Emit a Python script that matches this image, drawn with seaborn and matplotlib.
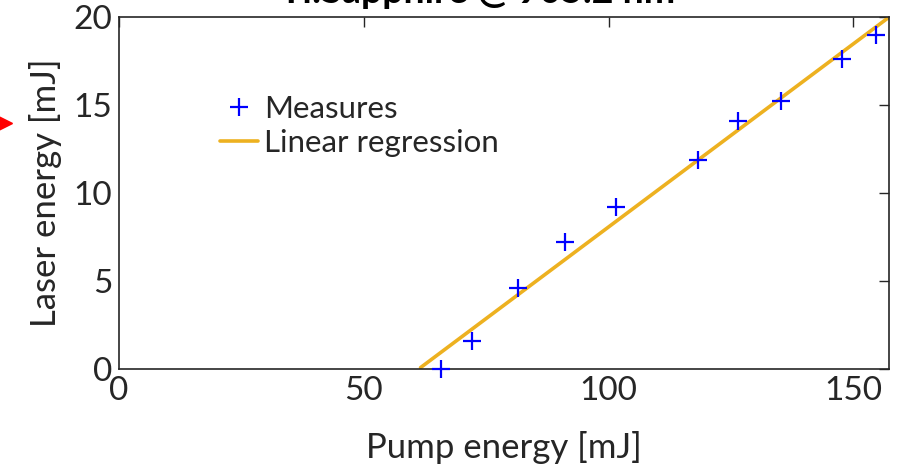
import numpy as np
import pandas as pd
import matplotlib
matplotlib.use("Agg")
import matplotlib.pyplot as plt
import seaborn as sns

pump = [65.7, 72.2, 81.6, 91.2, 101.6, 118.2, 126.5, 135.3, 147.8, 154.7]
laser = [0.0, 1.6, 4.6, 7.2, 9.2, 11.9, 14.1, 15.2, 17.6, 19.0]
fit_x = [61.6, 157.5]

sns.set_theme(style="white")
plt.rcParams['font.family'] = ['Lato', 'DejaVu Sans']

fig = plt.figure(figsize=(9.09, 4.72), dpi=100)
ax = fig.add_axes([119/909, 1-369/472, (889-119)/909, (369-17)/472])

df = pd.DataFrame({"pump": pump, "laser": laser})
coef = np.polyfit(pump, laser, 1)
fx = np.array(fit_x)
fit = pd.DataFrame({"x": fx, "y": np.polyval(coef, fx)})

ax.plot(df["pump"], df["laser"], linestyle='none', marker='+', color='#0000ff',
        markersize=13, markeredgewidth=1.6, label='Measures', clip_on=False, zorder=3)
sns.lineplot(data=fit, x="x", y="y", ax=ax, color='#EDB120', linewidth=2.6,
             label='Linear regression', zorder=2)

ax.set_xlim(0, 157.3)
ax.set_ylim(0, 20)
ax.set_xticks([0, 50, 100, 150])
ax.set_yticks([0, 5, 10, 15, 20])
ax.tick_params(direction='in', length=7, width=1, top=True, right=True,
               labelsize=24, colors='#262626', pad=5)
for s in ax.spines.values():
    s.set_color('#262626')
    s.set_linewidth(1.2)
ax.set_xlabel('Pump energy [mJ]', fontsize=25, color='#262626', labelpad=18)
ax.set_ylabel('Laser energy [mJ]', fontsize=25, color='#262626', labelpad=8)

leg = ax.legend(loc='upper left', bbox_to_anchor=(0.115, 0.815), frameon=False,
                fontsize=22.5, handlelength=1.2, handletextpad=0.2, labelspacing=0.2,
                borderaxespad=0)

fig.text(478/909, 1-3/472, 'Ti:Sapphire @ 905.2 nm', ha='center', va='baseline',
         fontsize=27, fontweight='bold', color='black')

fig.lines.append(matplotlib.lines.Line2D([4/909], [1-123/472], marker='>', color='red',
                 markersize=11, linestyle='none', transform=fig.transFigure))

fig.savefig('out.png', dpi=100)
